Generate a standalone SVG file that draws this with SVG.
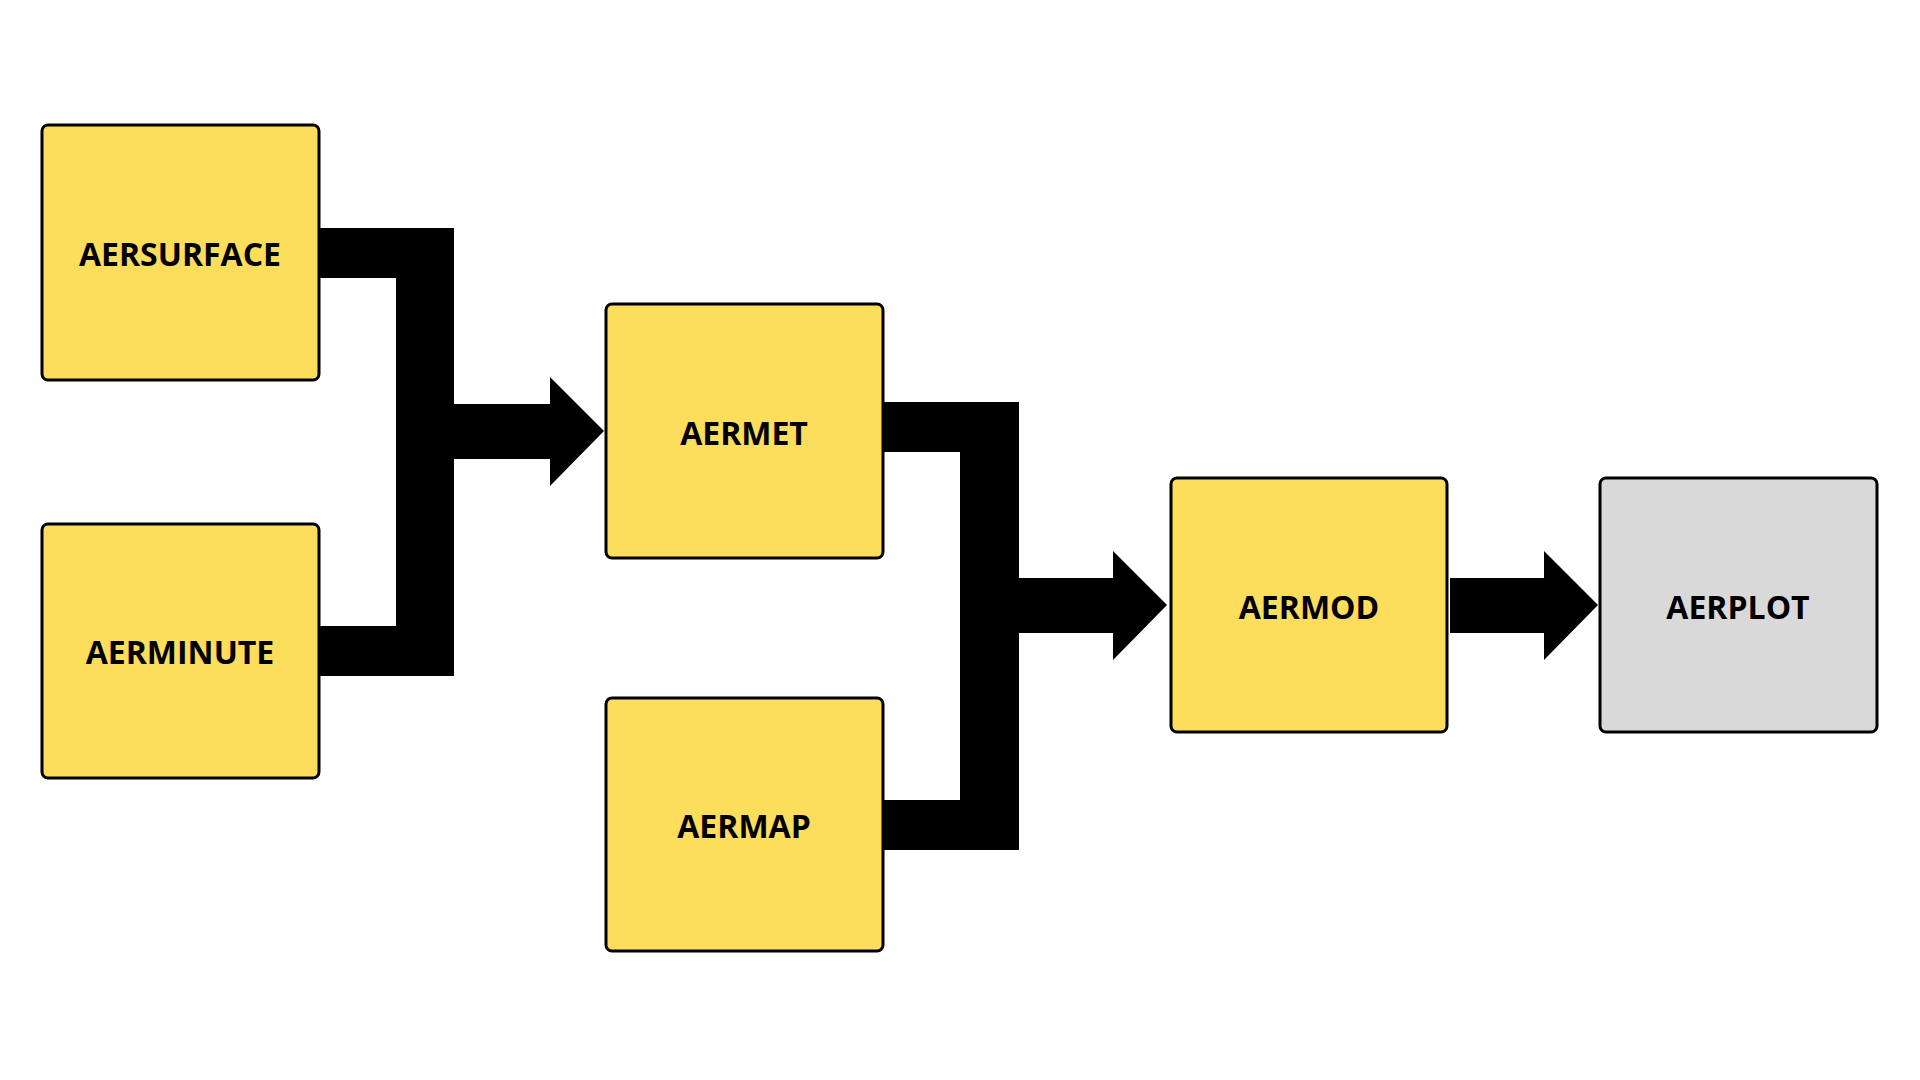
<svg xmlns="http://www.w3.org/2000/svg" width="1920" height="1080" viewBox="0 0 1920 1080">
<style>
.b{fill:#FDDD5C;stroke:#000;stroke-width:3}
.g{fill:#D9D9D9;stroke:#000;stroke-width:3}
text{font-family:"Open Sans",sans-serif;font-weight:bold;font-size:32px;text-anchor:middle;dominant-baseline:central;fill:#000}
</style>
<rect width="1920" height="1080" fill="#fff"/>
<g id="connectors" fill="#000">
<rect x="318" y="228" width="78" height="50"/>
<rect x="318" y="626" width="78" height="50"/>
<rect x="396" y="228" width="58" height="448"/>
<polygon points="454,404 550,404 550,377 604,431 550,486 550,459 454,459"/>
<rect x="884" y="402" width="76" height="50"/>
<rect x="884" y="800" width="76" height="50"/>
<rect x="960" y="402" width="59" height="448"/>
<polygon points="1019,578 1113,578 1113,551 1167,605 1113,660 1113,633 1019,633"/>
<polygon points="1450,578 1544,578 1544,551 1598,605 1544,660 1544,633 1450,633"/>
<path d="M606 436 H631 M628 434 L632 436 L628 438" stroke="#aaa" stroke-width="1" fill="none"/>
</g>
<g id="aersurface"><rect class="b" x="42" y="125" width="277" height="255" rx="6"/><text x="180" y="253">AERSURFACE</text></g>
<g id="aerminute"><rect class="b" x="42" y="524" width="277" height="254" rx="6"/><text x="180" y="651">AERMINUTE</text></g>
<g id="aermet"><rect class="b" x="606" y="304" width="277" height="254" rx="6"/><text x="744" y="432">AERMET</text></g>
<g id="aermap"><rect class="b" x="606" y="698" width="277" height="253" rx="6"/><text x="744" y="825">AERMAP</text></g>
<g id="aermod"><rect class="b" x="1171" y="478" width="276" height="254" rx="6"/><text x="1309" y="606">AERMOD</text></g>
<g id="aerplot"><rect class="g" x="1600" y="478" width="277" height="254" rx="6"/><text x="1738" y="606">AERPLOT</text></g>
</svg>
